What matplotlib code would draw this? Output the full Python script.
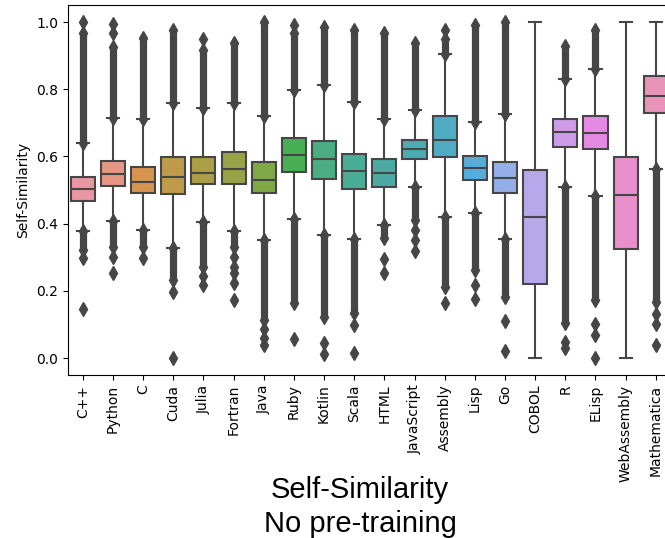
import colorsys

import matplotlib
matplotlib.use("Agg")
import matplotlib.pyplot as plt
import seaborn as sns

# Per-language self-similarity box statistics
languages = ["C++", "Python", "C", "Cuda", "Julia", "Fortran", "Java", "Ruby",
             "Kotlin", "Scala", "HTML", "JavaScript", "Assembly", "Lisp", "Go",
             "COBOL", "R", "ELisp", "WebAssembly", "Mathematica"]

medians = [0.502, 0.548, 0.525, 0.540, 0.552, 0.5625, 0.530, 0.604, 0.592, 0.5565,
           0.550, 0.621, 0.649, 0.565, 0.535, 0.4205, 0.672, 0.669, 0.485, 0.781]
q1 = [0.468, 0.513, 0.492, 0.488, 0.518, 0.518, 0.492, 0.554, 0.533, 0.503,
      0.510, 0.591, 0.597, 0.530, 0.492, 0.219, 0.627, 0.622, 0.324, 0.728]
q3 = [0.538, 0.586, 0.569, 0.599, 0.599, 0.614, 0.584, 0.654, 0.646, 0.607,
      0.591, 0.649, 0.720, 0.602, 0.584, 0.561, 0.711, 0.720, 0.599, 0.838]
whisker_low = [0.378, 0.409, 0.381, 0.326, 0.406, 0.379, 0.351, 0.413, 0.366, 0.353,
               0.395, 0.508, 0.419, 0.433, 0.354, 0.0, 0.508, 0.482, 0.0, 0.5625]
whisker_high = [0.639, 0.715, 0.711, 0.760, 0.743, 0.758, 0.721, 0.798, 0.8125, 0.761,
                0.710, 0.738, 0.904, 0.701, 0.726, 1.0, 0.831, 0.860, 1.0, 1.0]

# Densely packed outliers, given as (lowest, highest) value of each run
upper_runs = [(0.639, 0.966), (0.715, 0.927), (0.711, 0.951), (0.760, 0.976),
              (0.743, 0.917), (0.758, 0.937), (0.721, 1.0), (0.798, 0.966),
              (0.8125, 0.986), (0.761, 0.976), (0.710, 0.966), (0.738, 0.937),
              (0.904, 0.950), (0.701, 0.991), (0.726, 1.0), None,
              (0.831, 0.930), (0.860, 0.976), None, None]
lower_runs = [(0.321, 0.378), (0.331, 0.409), (0.331, 0.381), (0.232, 0.326),
              (0.272, 0.406), (0.331, 0.379), (0.113, 0.351), (0.163, 0.413),
              (0.123, 0.366), (0.134, 0.353), (0.356, 0.395), (0.411, 0.508),
              (0.212, 0.419), (0.262, 0.433), (0.182, 0.354), None,
              (0.104, 0.508), (0.173, 0.482), None, (0.168, 0.5625)]

# Isolated outliers
upper_points = [[1.0], [0.967, 0.994], [], [], [0.948], [], [], [0.991],
                [], [], [], [], [0.976], [], [], [], [], [], [], []]
lower_points = [[0.298, 0.145], [0.300, 0.252], [0.298], [0.197, 0.0],
                [0.244, 0.217], [0.301, 0.272, 0.252, 0.222, 0.173],
                [0.085, 0.060, 0.040], [0.056], [0.044, 0.012], [0.098, 0.014],
                [0.294, 0.252], [0.381, 0.351, 0.319], [0.163], [0.217, 0.176],
                [0.110, 0.022], [], [0.049, 0.029], [0.100, 0.068, 0.0], [],
                [0.131, 0.101, 0.039]]

# husl palette, desaturated the way seaborn's categorical plots do it
colors = [sns.desaturate(c, 0.75) for c in sns.husl_palette(len(languages), l=0.7)]
lum = min(colorsys.rgb_to_hls(*c)[1] for c in colors) * 0.6
gray = (lum, lum, lum)
lw = 1.5
flier_size = 7

fig = plt.figure(figsize=(6.65, 5.38), dpi=100)
ax = fig.add_axes([67.7 / 665, 1 - 374.8 / 538, 603.2 / 665, 369.6 / 538])

stats = []
for i, name in enumerate(languages):
    fliers = list(upper_points[i]) + list(lower_points[i])
    for run in (upper_runs[i], lower_runs[i]):
        if run is not None:
            fliers += [run[0], run[1]]
    stats.append(dict(label=name, med=medians[i], q1=q1[i], q3=q3[i],
                      whislo=whisker_low[i], whishi=whisker_high[i], fliers=fliers))

positions = list(range(len(languages)))
art = ax.bxp(stats, positions=positions, widths=0.8, patch_artist=True,
             boxprops=dict(edgecolor=gray, linewidth=lw, zorder=0.9),
             whiskerprops=dict(color=gray, linewidth=lw, linestyle="-"),
             capprops=dict(color=gray, linewidth=lw),
             medianprops=dict(color=gray, linewidth=lw),
             flierprops=dict(marker="d", markerfacecolor=gray, markeredgecolor=gray,
                             markersize=flier_size, linestyle="none"))
for box, c in zip(art["boxes"], colors):
    box.set_facecolor(c)

# dense outlier runs drawn as solid columns of stacked markers
band_width = (0.6 * flier_size + 1.0)
for i in positions:
    for run in (upper_runs[i], lower_runs[i]):
        if run is not None:
            ax.vlines(i, run[0], run[1], color=gray, linewidth=band_width, zorder=2)

ax.set_xlim(-0.5, len(languages) - 0.5)
ax.set_ylim(-0.05, 1.05)
ax.set_xticks(positions)
ax.set_xticklabels(languages, rotation=90, fontsize=10)
ax.set_yticks([0.0, 0.2, 0.4, 0.6, 0.8, 1.0])
ax.tick_params(axis="y", labelsize=10)
ax.set_ylabel("Self-Similarity", fontsize=10)

fig.text(360 / 665, 1 - 498 / 538, "Self-Similarity", ha="center", va="baseline",
         fontsize=21, family="Liberation Sans", color="black")
fig.text(360 / 665, 1 - 532 / 538, "No pre-training", ha="center", va="baseline",
         fontsize=21, family="Liberation Sans", color="black")

fig.savefig("out.png", dpi=100)
